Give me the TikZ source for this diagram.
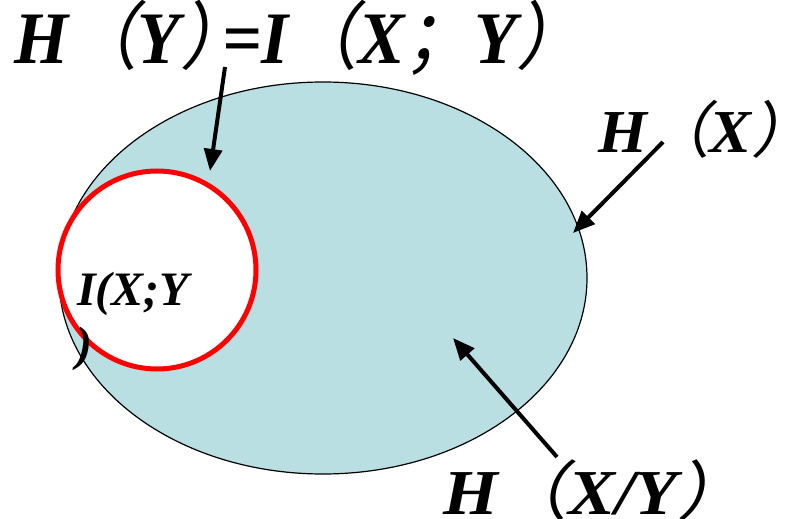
\documentclass[tikz,border=0pt]{standalone}
\usepackage{fontspec}
\setmainfont{Liberation Serif}
\newfontfamily\cjk[FakeSlant=0.2]{Noto Sans CJK SC}
\newcommand\flp{{\cjk\mdseries\upshape（}}
\newcommand\frp{{\cjk\mdseries\upshape）}}
\newcommand\fsm{{\cjk\mdseries\upshape；}}
\usetikzlibrary{arrows.meta,shapes.geometric}
\definecolor{setfill}{RGB}{185,223,227}
\begin{document}
\begin{tikzpicture}[x=1pt,y=-1pt,
  lbl/.style={inner sep=0pt,anchor=base west,font=\bfseries\itshape},
  pointer/.style={line width=4pt,-{Triangle[length=22pt,width=18pt]}}]
\useasboundingbox (0,0) rectangle (796,519);
\node[ellipse,draw=black,line width=1.2pt,fill=setfill,minimum width=528pt,minimum height=392pt,inner sep=0pt] (hx) at (323,278) {};
\node[circle,draw=red,line width=5pt,fill=white,minimum size=198pt,inner sep=0pt] (ixy) at (157,270) {};
\node[lbl,font=\fontsize{48}{50}\selectfont\bfseries\itshape] (ixytxt) at (77,305) {I(X;Y};
\node[lbl,font=\fontsize{48}{50}\selectfont\bfseries\itshape] (ixyclose) at (76,360) {)};
\node[lbl,xscale=0.94,font=\fontsize{74}{78}\selectfont\bfseries\itshape] (top) at (14,64) {H\flp Y\frp\kern-0.4em=I\flp X\fsm Y\frp};
\node[lbl,xscale=1.03,font=\fontsize{61}{64}\selectfont\bfseries\itshape] (hxl) at (598,153) {H\flp X\frp};
\node[lbl,xscale=1.1,font=\fontsize{64}{66}\selectfont\bfseries\itshape] (hxyl) at (443,514) {H\flp X/Y\frp};
\coordinate (t1) at (225,67); \coordinate (h1) at (210,171);
\coordinate (t2) at (663,142); \coordinate (h2) at (573,233);
\coordinate (t3) at (557,457); \coordinate (h3) at (453,338);
\draw[pointer] (t1) -- (h1);
\draw[pointer] (t2) -- (h2);
\draw[pointer] (t3) -- (h3);
\end{tikzpicture}
\end{document}
